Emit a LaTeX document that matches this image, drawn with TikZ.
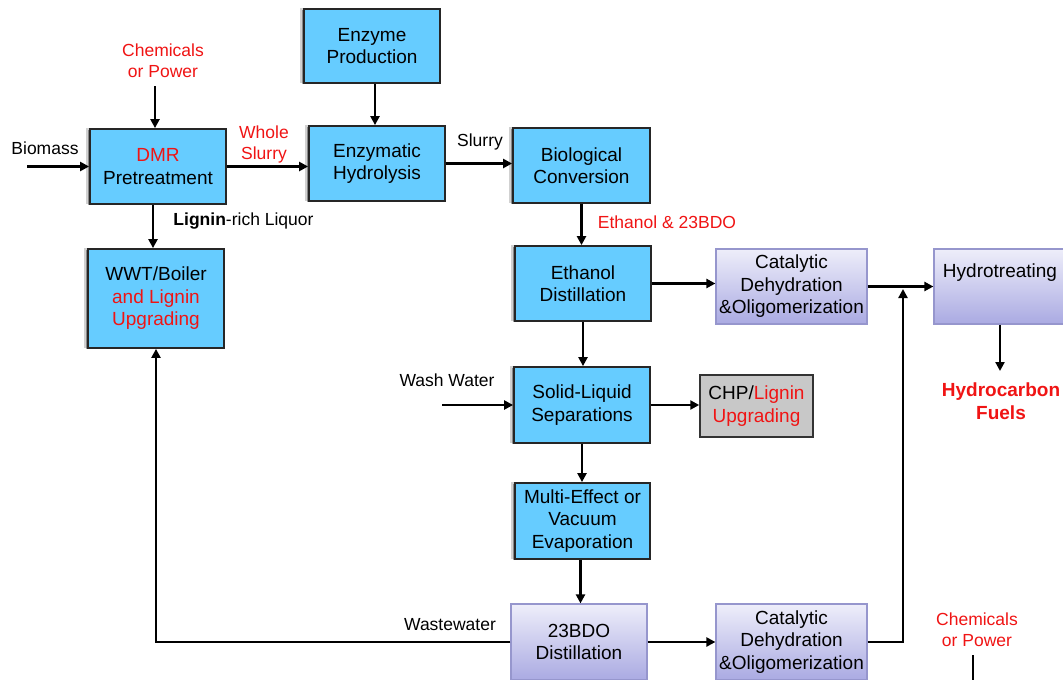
\documentclass[tikz,border=0pt]{standalone}
\usepackage{fontspec}
\setmainfont{Liberation Sans}
\usetikzlibrary{arrows.meta,shadows}
\definecolor{boxblue}{RGB}{102,204,255}
\definecolor{lred}{RGB}{240,20,20}
\definecolor{gtop}{RGB}{238,238,250}
\definecolor{gbot}{RGB}{170,170,226}
\definecolor{gborder}{RGB}{150,150,205}
\definecolor{chpgray}{RGB}{200,200,200}
\newcommand{\boxfont}{\fontsize{19}{22.5}\selectfont}
\newcommand{\lblfont}{\fontsize{17.5}{21}\selectfont}
\tikzset{
  bluebox/.style={draw=black!85, line width=1.8pt, fill=boxblue, inner sep=0pt, align=center, font=\boxfont,
    general shadow={shadow xshift=-3pt, shadow yshift=0.5pt, shadow scale=1.02, opacity=0.18, fill=black},
    drop shadow={shadow xshift=-1.8pt, shadow yshift=-0.8pt, opacity=0.35, fill=black}},
  gradbox/.style={draw=gborder, line width=1.2pt, top color=gtop, bottom color=gbot, inner sep=0pt, align=center, font=\boxfont},
  graybox/.style={draw=black!80, line width=1.5pt, fill=chpgray, inner sep=0pt, align=center, font=\boxfont},
  lbl/.style={inner sep=0pt, align=center, font=\lblfont},
  redlbl/.style={lbl, text=lred},
  conn/.style={line width=2.7pt, -{Triangle[length=9pt,width=9pt]}},
  wire/.style={line width=2.7pt},
}
\begin{document}
\begin{tikzpicture}[x=1pt,y=-1pt]
\useasboundingbox (0,0) rectangle (1063,680);
\clip (0,0) rectangle (1063,680);
\fill[white] (0,0) rectangle (1063,680);

% boxes
\node[bluebox, minimum width=136pt, minimum height=74pt] (enz) at (372,46) {Enzyme\\Production};
\node[bluebox, minimum width=136pt, minimum height=75pt] (dmr) at (158,166.5) {\textcolor{lred}{DMR}\\Pretreatment};
\node[bluebox, minimum width=136pt, minimum height=75pt] (hyd) at (377,163.5) {Enzymatic\\Hydrolysis};
\node[bluebox, minimum width=137pt, minimum height=75pt] (bio) at (581.5,165.5) {Biological\\Conversion};
\node[bluebox, minimum width=136pt, minimum height=99pt] (wwt) at (156,298.5) {WWT/Boiler\\\textcolor{lred}{and Lignin}\\\textcolor{lred}{Upgrading}};
\node[bluebox, minimum width=136pt, minimum height=75pt] (etd) at (583,283.5) {Ethanol\\Distillation};
\node[gradbox, minimum width=151pt, minimum height=75pt] (cat1) at (791.5,286.5) {Catalytic\\Dehydration\\\&Oligomerization};
\node[gradbox, minimum width=132pt, minimum height=75pt] (hdt) at (1000,286.5) {};
\node[inner sep=0pt, font=\boxfont] (hdtl) at (1000,273) {Hydrotreating};
\node[bluebox, minimum width=136pt, minimum height=76pt] (sls) at (582,405) {Solid-Liquid\\Separations};
\node[graybox, minimum width=113pt, minimum height=62pt] (chp) at (756.5,406) {CHP/\textcolor{lred}{Lignin}\\\textcolor{lred}{Upgrading}};
\node[bluebox, minimum width=135pt, minimum height=76pt] (mee) at (582.5,521) {Multi-Effect or\\Vacuum\\Evaporation};
\node[gradbox, minimum width=136pt, minimum height=76pt] (bdo) at (579,642) {23BDO\\Distillation};
\node[gradbox, minimum width=151pt, minimum height=76pt] (cat2) at (791.5,642) {Catalytic\\Dehydration\\\&Oligomerization};

% labels
\node[lbl] (bml) at (45,148) {Biomass};
\node[redlbl] (chem1) at (163,61) {Chemicals\\or Power};
\node[redlbl] (whole) at (264,144.5) {Whole\\Slurry};
\node[lbl] (slurry) at (480,142) {Slurry};
\node[redlbl] (eth) at (667,222) {Ethanol \& 23BDO};
\node[lbl] (lig) at (243.5,221) {\textbf{Lignin}-rich Liquor};
\node[lbl] (wash) at (447,380) {Wash Water};
\node[lbl] (ww) at (450,625) {Wastewater};
\node[inner sep=0pt, align=center, font=\boxfont\bfseries, text=lred] (fuel) at (1001,401) {Hydrocarbon\\Fuels};
\node[redlbl] (chem2) at (977,630) {Chemicals\\or Power};

% free ends
\coordinate (bm0) at (27,166.5);
\coordinate (c1) at (155,86);
\coordinate (w0) at (442,405);
\coordinate (merge) at (903,289);
\coordinate (fuelin) at (1000,371);
\coordinate (c2) at (973,655);
\coordinate (c2end) at (973,700);

% connectors
\draw[conn] (bm0) -- (dmr.west);
\draw[conn] (c1) -- (c1 |- dmr.north);
\draw[conn] (dmr.east) -- (dmr.east -| hyd.west);
\draw[conn] ([xshift=3pt]enz.south) -- ([xshift=3pt]enz.south |- hyd.north);
\draw[conn] (hyd.east) -- (hyd.east -| bio.west);
\draw[conn] (bio.south) -- (bio.south |- etd.north);
\draw[conn] ([xshift=-5pt]dmr.south) -- ([xshift=-5pt]dmr.south |- wwt.north);
\draw[conn] (etd.east) -- (etd.east -| cat1.west);
\draw[conn] (cat1.east) -- (cat1.east -| hdt.west);
\draw[conn] (cat2.east) -| (merge);
\draw[conn] (hdt.south) -- (fuelin);
\draw[conn] (etd.south) -- (etd.south |- sls.north);
\draw[conn] (w0) -- (sls.west);
\draw[conn] (sls.east) -- (sls.east -| chp.west);
\draw[conn] (sls.south) -- (sls.south |- mee.north);
\draw[conn] ([xshift=-2pt]mee.south) -- ([xshift=-2pt]mee.south |- bdo.north);
\draw[conn] (bdo.east) -- (bdo.east -| cat2.west);
\draw[conn] (bdo.west) -| (wwt.south);
\draw[wire] (c2) -- (c2end);
\end{tikzpicture}
\end{document}
